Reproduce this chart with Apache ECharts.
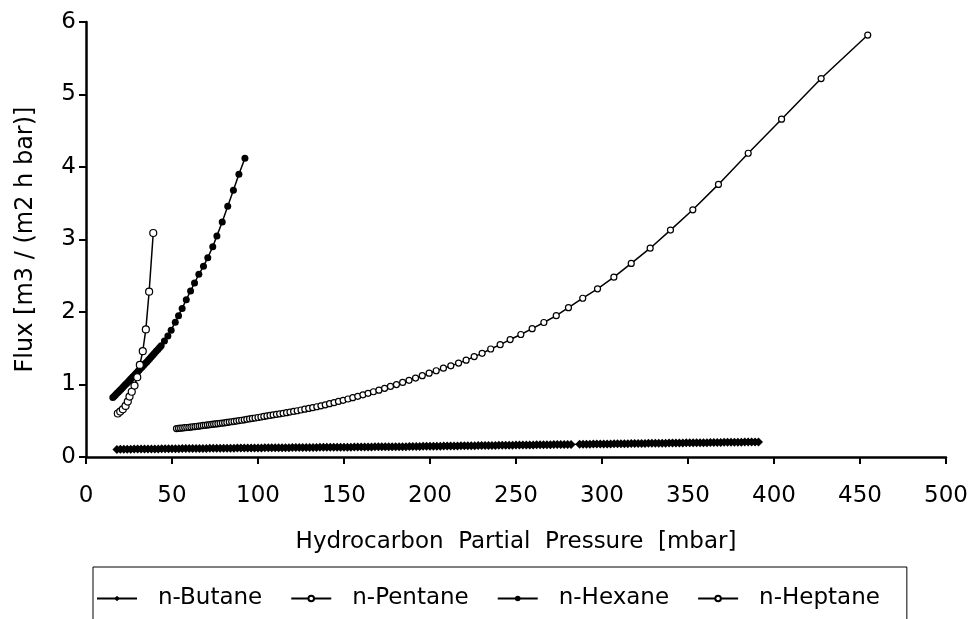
<!DOCTYPE html>
<html>
<head>
<meta charset="utf-8">
<title>Flux vs Hydrocarbon Partial Pressure</title>
<script src="https://cdn.jsdelivr.net/npm/echarts@6/dist/echarts.min.js"></script>
<style>
  html, body { margin: 0; padding: 0; background: #fff; }
  #chart { width: 974px; height: 619px; }
</style>
</head>
<body>
<div id="chart"></div>
<script type="text/javascript">
// values
var butaneX = [18,20,22,24,26,28,30,32,34,36,
  38,40,42,44,46,48,50,52,54,56,
  58,60,62,64,66,68,70,72,74,76,
  78,80,82,84,86,88,90,92,94,96,
  98,100,102,104,106,108,110,112,114,116,
  118,120,122,124,126,128,130,132,134,136,
  138,140,142,144,146,148,150,152,154,156,
  158,160,162,164,166,168,170,172,174,176,
  178,180,182,184,186,188,190,192,194,196,
  198,200,202,204,206,208,210,212,214,216,
  218,220,222,224,226,228,230,232,234,236,
  238,240,242,244,246,248,250,252,254,256,
  258,260,262,264,266,268,270,272,274,276,
  278,280,282,287,289,291,293,295,297,299,
  301,303,305,307,309,311,313,315,317,319,
  321,323,325,327,329,331,333,335,337,339,
  341,343,345,347,349,351,353,355,357,359,
  361,363,365,367,369,371,373,375,377,379,
  381,383,385,387,389,391];
var butaneY = [0.105,0.106,0.106,0.107,0.108,0.109,0.110,0.110,0.111,0.111,
  0.111,0.112,0.112,0.113,0.113,0.114,0.114,0.115,0.115,0.116,
  0.116,0.117,0.117,0.118,0.118,0.118,0.118,0.119,0.119,0.120,
  0.120,0.121,0.121,0.122,0.122,0.123,0.123,0.124,0.124,0.124,
  0.124,0.125,0.125,0.126,0.126,0.127,0.127,0.128,0.128,0.129,
  0.129,0.130,0.130,0.130,0.130,0.131,0.131,0.132,0.132,0.133,
  0.133,0.134,0.134,0.135,0.135,0.136,0.136,0.136,0.136,0.137,
  0.137,0.138,0.138,0.139,0.139,0.140,0.140,0.141,0.141,0.141,
  0.141,0.142,0.142,0.143,0.143,0.144,0.145,0.146,0.146,0.147,
  0.147,0.148,0.148,0.149,0.150,0.151,0.151,0.152,0.152,0.153,
  0.154,0.155,0.155,0.156,0.156,0.157,0.157,0.158,0.158,0.159,
  0.160,0.161,0.161,0.162,0.162,0.163,0.164,0.165,0.165,0.166,
  0.166,0.167,0.168,0.169,0.169,0.170,0.170,0.171,0.172,0.173,
  0.173,0.174,0.174,0.176,0.176,0.177,0.177,0.178,0.179,0.180,
  0.180,0.181,0.181,0.182,0.182,0.183,0.183,0.184,0.185,0.186,
  0.186,0.187,0.187,0.188,0.188,0.189,0.190,0.191,0.191,0.192,
  0.192,0.193,0.193,0.194,0.195,0.196,0.196,0.197,0.197,0.198,
  0.198,0.199,0.200,0.201,0.201,0.202,0.202,0.203,0.204,0.205,
  0.205,0.206,0.206,0.207,0.207,0.208];

var pentaneX = [52.6,53.8,55.0,56.2,57.4,58.6,59.8,61.0,62.2,63.4,64.6,65.8,67.0,68.2,69.4,70.6,71.8,73.0,74.2,75.4,76.7,78.0,79.3,80.6,81.9,83.3,84.7,86.1,87.5,89.0,90.5,92.0,93.5,95.1,96.7,98.3,100.0,101.7,103.4,105.2,107.0,108.8,110.7,112.6,114.6,116.6,118.6,120.7,122.8,125.0,127.2,129.5,131.8,134.2,136.6,139.1,141.6,144.2,146.8,149.5,152.3,155.1,158.0,161.0,164.0,167.1,170.3,173.6,177.0,180.5,184.1,187.8,191.6,195.5,199.5,203.6,207.8,
  212.1,216.6,221.0,225.7,230.3,235.3,240.8,246.6,252.8,259.4,266.2,273.4,280.5,288.8,297.4,306.9,317.0,328.0,339.8,352.8,367.7,385.0,404.4,427.4,454.5];
var pentaneY = [0.392,0.395,0.397,0.400,0.404,0.407,0.410,0.413,0.417,0.420,0.424,0.427,0.431,0.435,0.438,0.442,0.445,0.449,0.453,0.456,0.460,0.464,0.468,0.472,0.477,0.482,0.486,0.491,0.496,0.502,0.507,0.513,0.519,0.525,0.532,0.538,0.545,0.552,0.559,0.566,0.573,0.580,0.588,0.595,0.603,0.611,0.619,0.628,0.638,0.648,0.659,0.670,0.680,0.693,0.706,0.720,0.735,0.750,0.766,0.782,0.800,0.818,0.837,0.857,0.878,0.900,0.922,0.947,0.973,0.999,1.028,1.057,1.089,1.122,1.156,1.190,1.225,
  1.257,1.295,1.335,1.385,1.430,1.490,1.550,1.620,1.690,1.770,1.855,1.950,2.060,2.190,2.320,2.480,2.670,2.880,3.130,3.410,3.760,4.190,4.660,5.220,5.820];

var hexaneX = [15.6,16.4,17.2,18.0,18.8,19.6,20.4,21.2,22.0,22.8,23.6,24.4,25.2,26.0,26.8,27.6,28.4,29.2,30.0,30.8,31.7,32.6,33.5,34.4,35.3,36.2,37.1,38.0,38.9,39.8,40.8,41.8,42.8,43.7,
  45.6,47.6,49.5,51.9,53.8,55.9,58.3,60.8,63.1,65.6,68.3,70.8,73.7,76.1,79.2,82.4,85.7,88.9,92.4];
var hexaneY = [0.820,0.839,0.858,0.878,0.897,0.917,0.936,0.956,0.976,0.995,1.015,1.035,1.055,1.075,1.095,1.115,1.135,1.156,1.176,1.196,1.219,1.243,1.266,1.289,1.312,1.336,1.359,1.383,1.406,1.430,1.457,1.483,1.510,1.534,
  1.600,1.670,1.750,1.860,1.950,2.050,2.170,2.290,2.400,2.520,2.630,2.750,2.900,3.050,3.240,3.460,3.680,3.900,4.120];

var heptaneX = [18.5,19.9,21.4,23.0,24.3,25.3,26.6,28.2,29.8,31.3,33.0,34.8,36.7,39.1];
var heptaneY = [0.600,0.626,0.658,0.704,0.764,0.833,0.900,0.985,1.100,1.270,1.460,1.760,2.280,3.090];

var xTicks = [0, 500, 50];
var yTicks = [0, 6, 1];

function pairs(xs, ys) {
  return xs.map(function (x, i) { return [x, ys[i]]; });
}

var font = 'DejaVu Sans';
var chart = echarts.init(document.getElementById('chart'), null, { renderer: 'canvas' });

chart.setOption({
  backgroundColor: '#fff',
  animation: false,
  textStyle: { fontFamily: font, color: '#000' },
  grid: { left: 86, right: 28, top: 22, bottom: 162, containLabel: false },
  legend: {
    left: 93,
    top: 567,
    orient: 'horizontal',
    padding: [20, 27, 40, 3],
    borderColor: '#000',
    borderWidth: 1,
    itemWidth: 40,
    itemHeight: 7,
    itemGap: 28,
    textStyle: { fontFamily: font, fontSize: 23, color: '#000', padding: [0, 0, 0, 16] },
    data: ['n-Butane', 'n-Pentane', 'n-Hexane', 'n-Heptane']
  },
  xAxis: {
    type: 'value',
    min: xTicks[0], max: xTicks[1], interval: xTicks[2],
    name: 'Hydrocarbon  Partial  Pressure  [mbar]',
    nameLocation: 'middle',
    nameGap: 74,
    nameTextStyle: { fontFamily: font, fontSize: 23, color: '#000' },
    axisLine: { show: true, onZero: false, lineStyle: { color: '#000', width: 2.5 } },
    axisTick: { show: true, inside: false, length: 7, lineStyle: { color: '#000', width: 2 } },
    axisLabel: { fontFamily: font, fontSize: 23, color: '#000', margin: 28 },
    splitLine: { show: false }
  },
  yAxis: {
    type: 'value',
    min: yTicks[0], max: yTicks[1], interval: yTicks[2],
    name: 'Flux [m3 / (m2 h bar)]',
    nameLocation: 'middle',
    nameGap: 48,
    nameTextStyle: { fontFamily: font, fontSize: 24, color: '#000' },
    axisLine: { show: true, onZero: false, lineStyle: { color: '#000', width: 2.5 } },
    axisTick: { show: true, inside: false, length: 7, lineStyle: { color: '#000', width: 2 } },
    axisLabel: { fontFamily: font, fontSize: 23, color: '#000', margin: 10 },
    splitLine: { show: false }
  },
  series: [
    {
      name: 'n-Butane', type: 'line', data: pairs(butaneX, butaneY),
      symbol: 'diamond', symbolSize: 9,
      itemStyle: { color: '#000' },
      lineStyle: { color: '#000', width: 1.2 }
    },
    {
      name: 'n-Pentane', type: 'line', data: pairs(pentaneX, pentaneY),
      symbol: 'circle', symbolSize: 6,
      itemStyle: { color: '#fff', borderColor: '#000', borderWidth: 1.2 },
      lineStyle: { color: '#000', width: 1.5 }
    },
    {
      name: 'n-Hexane', type: 'line', data: pairs(hexaneX, hexaneY),
      symbol: 'circle', symbolSize: 7,
      itemStyle: { color: '#000' },
      lineStyle: { color: '#000', width: 1.5 }
    },
    {
      name: 'n-Heptane', type: 'line', data: pairs(heptaneX, heptaneY),
      symbol: 'circle', symbolSize: 7,
      itemStyle: { color: '#fff', borderColor: '#000', borderWidth: 1.2 },
      lineStyle: { color: '#000', width: 1.5 }
    }
  ]
});
</script>
</body>
</html>
